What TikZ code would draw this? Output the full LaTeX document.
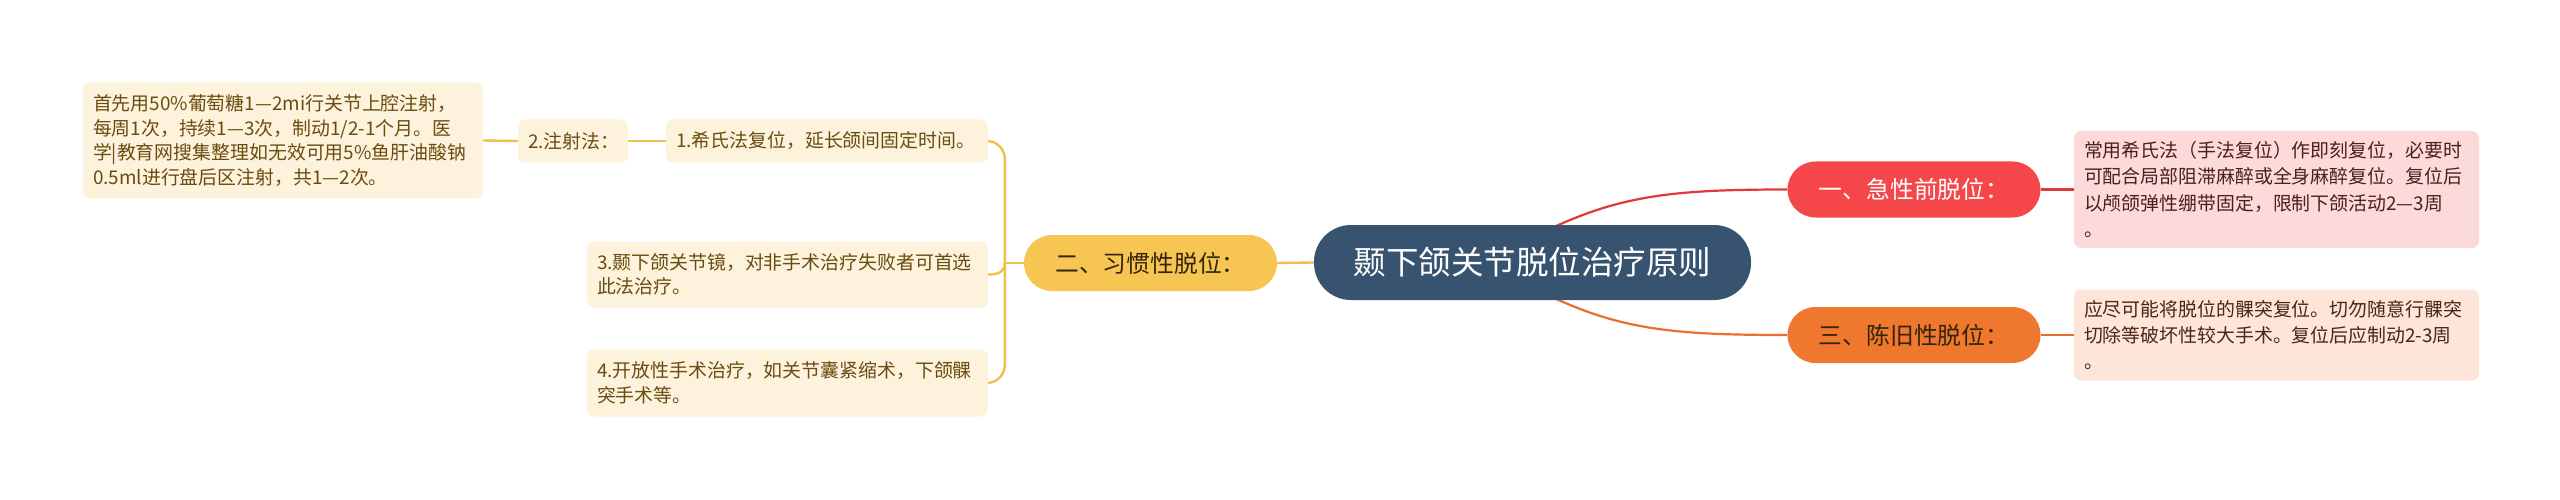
\documentclass[tikz,border=0pt]{standalone}
\usepackage{fontspec}
\newfontfamily\cjk{Noto Sans CJK SC}
\usetikzlibrary{calc}
\pgfdeclarelayer{bg}
\pgfsetlayers{bg,main}
\definecolor{rootfill}{HTML}{37536F}
\definecolor{redfill}{HTML}{F5474A}
\definecolor{orangefill}{HTML}{F0772E}
\definecolor{yellowfill}{HTML}{F7C552}
\definecolor{redleaf}{HTML}{FCDADA}
\definecolor{orangeleaf}{HTML}{FDE5D9}
\definecolor{yellowleaf}{HTML}{FDF3DD}
\definecolor{redline}{HTML}{E0383B}
\definecolor{orangeline}{HTML}{E8702C}
\definecolor{yellowline}{HTML}{F0C04E}
\definecolor{ltext}{HTML}{6B4C10}
\definecolor{rtext}{HTML}{4E1E1E}
\definecolor{otext}{HTML}{4A2614}
\definecolor{dtext}{HTML}{33240C}
\begin{document}
\begin{tikzpicture}[x=1pt,y=-1pt,
  rootbox/.style={fill=rootfill, text=white, rounded corners=37pt, minimum width=437pt, minimum height=75pt, inner sep=0pt, font=\cjk\fontsize{32.5}{38}\selectfont},
  mainbox/.style={rounded corners=28pt, minimum width=253pt, minimum height=56pt, inner sep=0pt, font=\cjk\fontsize{23.8}{28}\selectfont},
  leafbox/.style={rounded corners=7pt, align=left, inner xsep=10pt, inner ysep=0pt, font=\cjk\fontsize{18.9}{24.5}\selectfont},
  yleaf/.style={leafbox, fill=yellowleaf, text=ltext},
  rleaf/.style={leafbox, fill=redleaf, text=rtext, font=\cjk\fontsize{18.9}{26.3}\selectfont},
  oleaf/.style={leafbox, fill=orangeleaf, text=otext, font=\cjk\fontsize{18.9}{26.3}\selectfont},
  yconn/.style={draw=yellowline, line width=2.4pt},
  rconn/.style={draw=redline, line width=2.2pt},
  oconn/.style={draw=orangeline, line width=2.2pt}
]
\begin{pgfonlayer}{bg}
\fill[white] (0,0) rectangle (2560,500);
\end{pgfonlayer}
\useasboundingbox (0,0) rectangle (2560,500);

% root
\node[rootbox] (root) at (1532.5,262.5) {颞下颌关节脱位治疗原则};

% main branches
\node[mainbox, fill=redfill, text=white] (acute) at (1914,189.5) {一、急性前脱位：};
\node[mainbox, fill=orangefill, text=dtext] (old) at (1914,335) {三、陈旧性脱位：};
\node[mainbox, fill=yellowfill, text=dtext] (habit) at (1150.5,263) {二、习惯性脱位：};

% right leaves
\node[rleaf, text width=385pt, minimum height=117pt] (acuteleaf) at (2276.5,189.5) {常用希氏法（手法复位）作即刻复位，必要时\\可配合局部阻滞麻醉或全身麻醉复位。复位后\\以颅颌弹性绷带固定，限制下颌活动2—3周\\。};
\node[oleaf, text width=385pt, minimum height=91pt] (oldleaf) at (2276.5,335) {应尽可能将脱位的髁突复位。切勿随意行髁突\\切除等破坏性较大手术。复位后应制动2-3周\\。};

% left leaves
\node[yleaf, text width=302pt, minimum height=43pt] (l1) at (827,141) {1.希氏法复位，延长颌间固定时间。};
\node[yleaf, text width=90pt, minimum height=43pt] (l2) at (573,141) {2.注射法：};
\node[yleaf, text width=380pt, minimum height=116pt] (l2a) at (283,140.5) {首先用50\%葡萄糖1—2mi行关节上腔注射，\\每周1次，持续1—3次，制动1/2-1个月。医\\学|教育网搜集整理如无效可用5\%鱼肝油酸钠\\0.5ml进行盘后区注射，共1—2次。};
\node[yleaf, text width=381pt, minimum height=66pt] (l3) at (787.5,274.5) {3.颞下颌关节镜，对非手术治疗失败者可首选\\此法治疗。};
\node[yleaf, text width=381pt, minimum height=67pt] (l4) at (787.5,383) {4.开放性手术治疗，如关节囊紧缩术，下颌髁\\突手术等。};

\begin{pgfonlayer}{bg}
  % root to main branches
  \draw[rconn] ($(root.north)+(22,2)$) .. controls +(70,-32) and +(-110,0) .. (acute.west);
  \draw[oconn] ($(root.south)+(22,-2)$) .. controls +(70,32) and +(-110,0) .. (old.west);
  \draw[yconn] (root.west) -- (habit.east);
  % main to right leaves
  \draw[rconn] (acute.east) -- (acuteleaf.west);
  \draw[oconn] (old.east) -- (oldleaf.west);
  % habit bracket
  \coordinate (hb) at ($(habit.west)+(-19,0)$);
  \draw[yconn] (habit.west) -- (hb);
  \draw[yconn, rounded corners=18pt] (hb) |- (l1.east);
  \draw[yconn, rounded corners=18pt] (hb) |- (l4.east);
  \draw[yconn] (hb) .. controls +(0,9) and +(10,0) .. (l3.east);
  % chain to the left
  \draw[yconn] (l1.west) -- (l2.east);
  \draw[yconn] (l2.west) -- (l2a.east);
\end{pgfonlayer}
\end{tikzpicture}
\end{document}
